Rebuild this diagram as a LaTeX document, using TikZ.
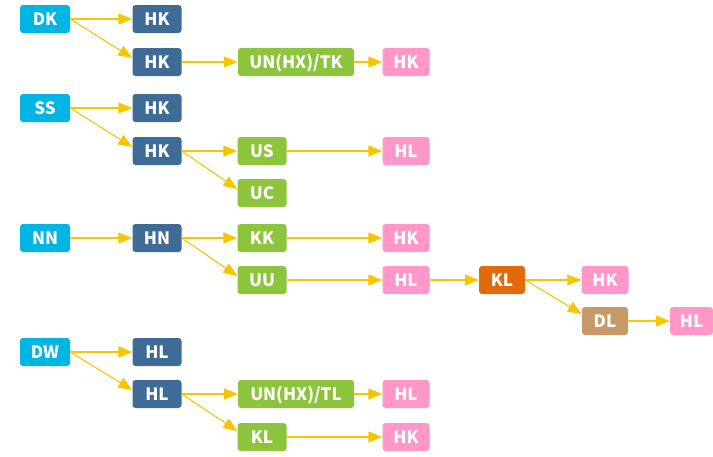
\documentclass[tikz,border=0pt]{standalone}
\usepackage{fontspec}
\setmainfont{Noto Sans CJK SC}
\usetikzlibrary{arrows.meta}
\definecolor{cCyan}{HTML}{00B4E4}
\definecolor{cBlue}{HTML}{3E6C96}
\definecolor{cGreen}{HTML}{8CC43C}
\definecolor{cPink}{HTML}{FF98C8}
\definecolor{cOrange}{HTML}{E26A0C}
\definecolor{cBrown}{HTML}{C79868}
\definecolor{cArrow}{HTML}{F7C600}
\tikzset{
  box/.style={rounded corners=3pt, minimum height=28pt, inner sep=0pt, text=white,
    font=\bfseries\fontsize{17}{17}\selectfont, text height=12.5pt, text depth=0pt},
  bcyan/.style={box, fill=cCyan, minimum width=50pt},
  bblue/.style={box, fill=cBlue, minimum width=49pt},
  bgreen/.style={box, fill=cGreen, minimum width=49pt},
  bpink/.style={box, fill=cPink, minimum width=47pt},
  borange/.style={box, fill=cOrange, minimum width=46pt},
  bbrown/.style={box, fill=cBrown, minimum width=46pt},
  wide/.style={minimum width=116pt},
  arr/.style={draw=cArrow, line width=1.1pt, -{Triangle[length=14pt,width=11pt]}}
}
\begin{document}
\begin{tikzpicture}[x=1pt,y=-1pt]
\useasboundingbox (0,0) rectangle (713,456);
% group 1
\node[bcyan] (dk) at (45,19) {DK};
\node[bblue] (hk1) at (157,19) {HK};
\node[bblue] (hk2) at (157,62) {HK};
\node[bgreen,wide] (un1) at (296,62) {UN(HX)/TK};
\node[bpink] (p1) at (406,62) {HK};
\draw[arr] (dk.east) -- (hk1.west);
\draw[arr] (dk.east) -- ([yshift=4pt]hk2.west);
\draw[arr] (hk2.east) -- (un1.west);
\draw[arr] (un1.east) -- (p1.west);
% group 2
\node[bcyan] (ss) at (45,108) {SS};
\node[bblue] (hk3) at (157,108) {HK};
\node[bblue] (hk4) at (157,151) {HK};
\node[bgreen] (us) at (262,151) {US};
\node[bpink] (p2) at (406,151) {HL};
\node[bgreen] (uc) at (262,193) {UC};
\draw[arr] (ss.east) -- (hk3.west);
\draw[arr] (ss.east) -- ([yshift=4pt]hk4.west);
\draw[arr] (hk4.east) -- (us.west);
\draw[arr] (hk4.east) -- ([yshift=4pt]uc.west);
\draw[arr] (us.east) -- (p2.west);
% group 3
\node[bcyan] (nn) at (45,238) {NN};
\node[bblue] (hn) at (157,238) {HN};
\node[bgreen] (kk) at (262,238) {KK};
\node[bpink] (p3) at (406,238) {HK};
\node[bgreen] (uu) at (262,280) {UU};
\node[bpink] (p4) at (406,280) {HL};
\node[borange] (kl) at (502,280) {KL};
\node[bpink] (p5) at (605,280) {HK};
\node[bbrown] (dl) at (605,321) {DL};
\node[bpink, minimum width=43pt] (p6) at (691.5,321) {HL};
\draw[arr] (nn.east) -- (hn.west);
\draw[arr] (hn.east) -- (kk.west);
\draw[arr] (hn.east) -- ([yshift=4pt]uu.west);
\draw[arr] (kk.east) -- (p3.west);
\draw[arr] (uu.east) -- (p4.west);
\draw[arr] (p4.east) -- (kl.west);
\draw[arr] (kl.east) -- (p5.west);
\draw[arr] (kl.east) -- ([yshift=7pt]dl.west);
\draw[arr] (dl.east) -- (p6.west);
% group 4
\node[bcyan] (dw) at (45,352) {DW};
\node[bblue] (hl1) at (157,352) {HL};
\node[bblue] (hl2) at (157,394) {HL};
\node[bgreen,wide] (un2) at (296,394) {UN(HX)/TL};
\node[bpink] (p7) at (406,394) {HL};
\node[bgreen] (kl2) at (262,437) {KL};
\node[bpink] (p8) at (406,437) {HK};
\draw[arr] (dw.east) -- (hl1.west);
\draw[arr] (dw.east) -- ([yshift=4pt]hl2.west);
\draw[arr] (hl2.east) -- (un2.west);
\draw[arr] (hl2.east) -- ([yshift=6pt]kl2.west);
\draw[arr] (un2.east) -- (p7.west);
\draw[arr] (kl2.east) -- (p8.west);
\end{tikzpicture}
\end{document}
